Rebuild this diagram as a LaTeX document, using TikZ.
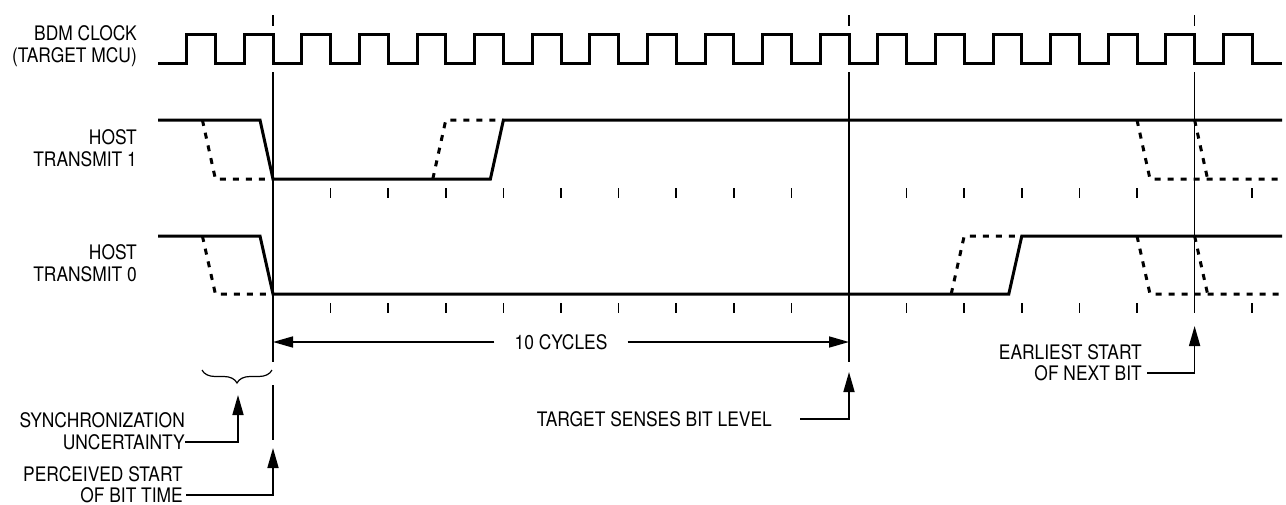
\documentclass[tikz,border=0pt]{standalone}
\usepackage{amsmath}
\usepackage{fontspec}
\setmainfont{TeX Gyre Heros}[FakeStretch=0.87]
\usepackage{tikz}
\usetikzlibrary{arrows.meta,decorations.pathreplacing}

\begin{document}
\begin{tikzpicture}[x=1pt,y=1pt]
\tikzstyle{every node}+=[inner sep=0pt,font=\fontsize{20}{24}\selectfont]
\tikzset{sig/.style={black,line width=3pt},
  alt/.style={black,line width=3pt,dash pattern=on 6pt off 7pt},
  thin/.style={black,line width=1.7pt},
  ptr/.style={black,line width=1.7pt,-{Triangle[length=20pt,width=11pt]}},
  lbl/.style={anchor=east,text height=14.3pt,text depth=0pt}}
\useasboundingbox (0,0) rectangle (1286,-504);
\node [lbl] (clk1) at (137,-33) {BDM CLOCK};
\node [lbl] (clk2) at (137,-55) {(TARGET MCU)};
\node [lbl] (one1) at (137,-137) {HOST};
\node [lbl] (one2) at (137,-159) {TRANSMIT 1};
\node [lbl] (zero1) at (137,-252) {HOST};
\node [lbl] (zero2) at (137,-274) {TRANSMIT 0};
\node [lbl] (sync1) at (185,-420) {SYNCHRONIZATION};
\node [lbl] (sync2) at (185,-442) {UNCERTAINTY};
\node [lbl] (start1) at (183,-474) {PERCEIVED START};
\node [lbl] (start2) at (183,-495) {OF BIT TIME};
\node [lbl] (sense) at (772,-419) {TARGET SENSES BIT LEVEL};
\node [lbl] (next1) at (1142,-352) {EARLIEST START};
\node [lbl] (next2) at (1142,-373) {OF NEXT BIT};
\node [text height=14.3pt,text depth=0pt] (cycles) at (561,-342) {10 CYCLES};
\coordinate (sync tip) at (238,-395);
\coordinate (start tip) at (273,-448);
\coordinate (sense tip) at (849,-372);
\coordinate (next tip) at (1194.6,-326);
\coordinate (cyc left) at (273,-342);
\coordinate (cyc right) at (849,-342);
\draw [sig] (158,-63) \foreach \k in {-1,...,17} { -- ({273+57.6*(\k-0.5)},-63) -- ({273+57.6*(\k-0.5)},-34) -- ({273+57.6*\k},-34) -- ({273+57.6*\k},-63) } -- (1282,-63);
\draw [thin] (273,-15) -- (273,-26);
\draw [thin] (849,-15) -- (849,-26);
\draw [thin] (1194.6,-15) -- (1194.6,-26);
\draw [thin] (273,-72) -- (273,-362);
\draw [thin] (273,-385) -- (273,-440);
\draw [thin] (849,-72) -- (849,-362);
\draw [thin] (1194.6,-72) -- (1194.6,-313);
\foreach \k in {1,...,9,11,12,13,14,15,17} {
  \draw [thin] ({273+57.6*\k},-188) -- ++(0,-10);
  \draw [thin] ({273+57.6*\k},-303) -- ++(0,-10);
}
\draw [sig] (158,-120) -- (260,-120) -- (273,-179) -- (490.4,-179) -- (503.4,-120) -- (1282,-120);
\draw [alt] (202.4,-120) -- (215.4,-179) -- (273,-179);
\draw [alt] (432.8,-179) -- (445.8,-120) -- (503.4,-120);
\draw [alt] (1137,-120) -- (1150,-179) -- (1282,-179);
\draw [alt] (1194.6,-120) -- (1207.6,-179);
\draw [sig] (158,-236) -- (260,-236) -- (273,-294) -- (1008.8,-294) -- (1021.8,-236) -- (1282,-236);
\draw [alt] (202.4,-236) -- (215.4,-294) -- (273,-294);
\draw [alt] (951.2,-294) -- (964.2,-236) -- (1021.8,-236);
\draw [alt] (1137,-236) -- (1150,-294) -- (1282,-294);
\draw [alt] (1194.6,-236) -- (1207.6,-294);
\draw [black,line width=1.2pt,decorate,decoration={brace,mirror,amplitude=13pt}] (202,-370) -- (272,-370);
\draw [ptr,shorten <=20pt] (cycles.west) -- (cyc left);
\draw [ptr,shorten <=20pt] (cycles.east) -- (cyc right);
\draw [ptr] (sync2.east) -| (sync tip);
\draw [ptr,shorten <=3pt] (start2.east) -| (start tip);
\draw [ptr,shorten <=28pt] (sense.east) -| (sense tip);
\draw [ptr,shorten <=5pt] (next2.east) -| (next tip);
\end{tikzpicture}
\end{document}
